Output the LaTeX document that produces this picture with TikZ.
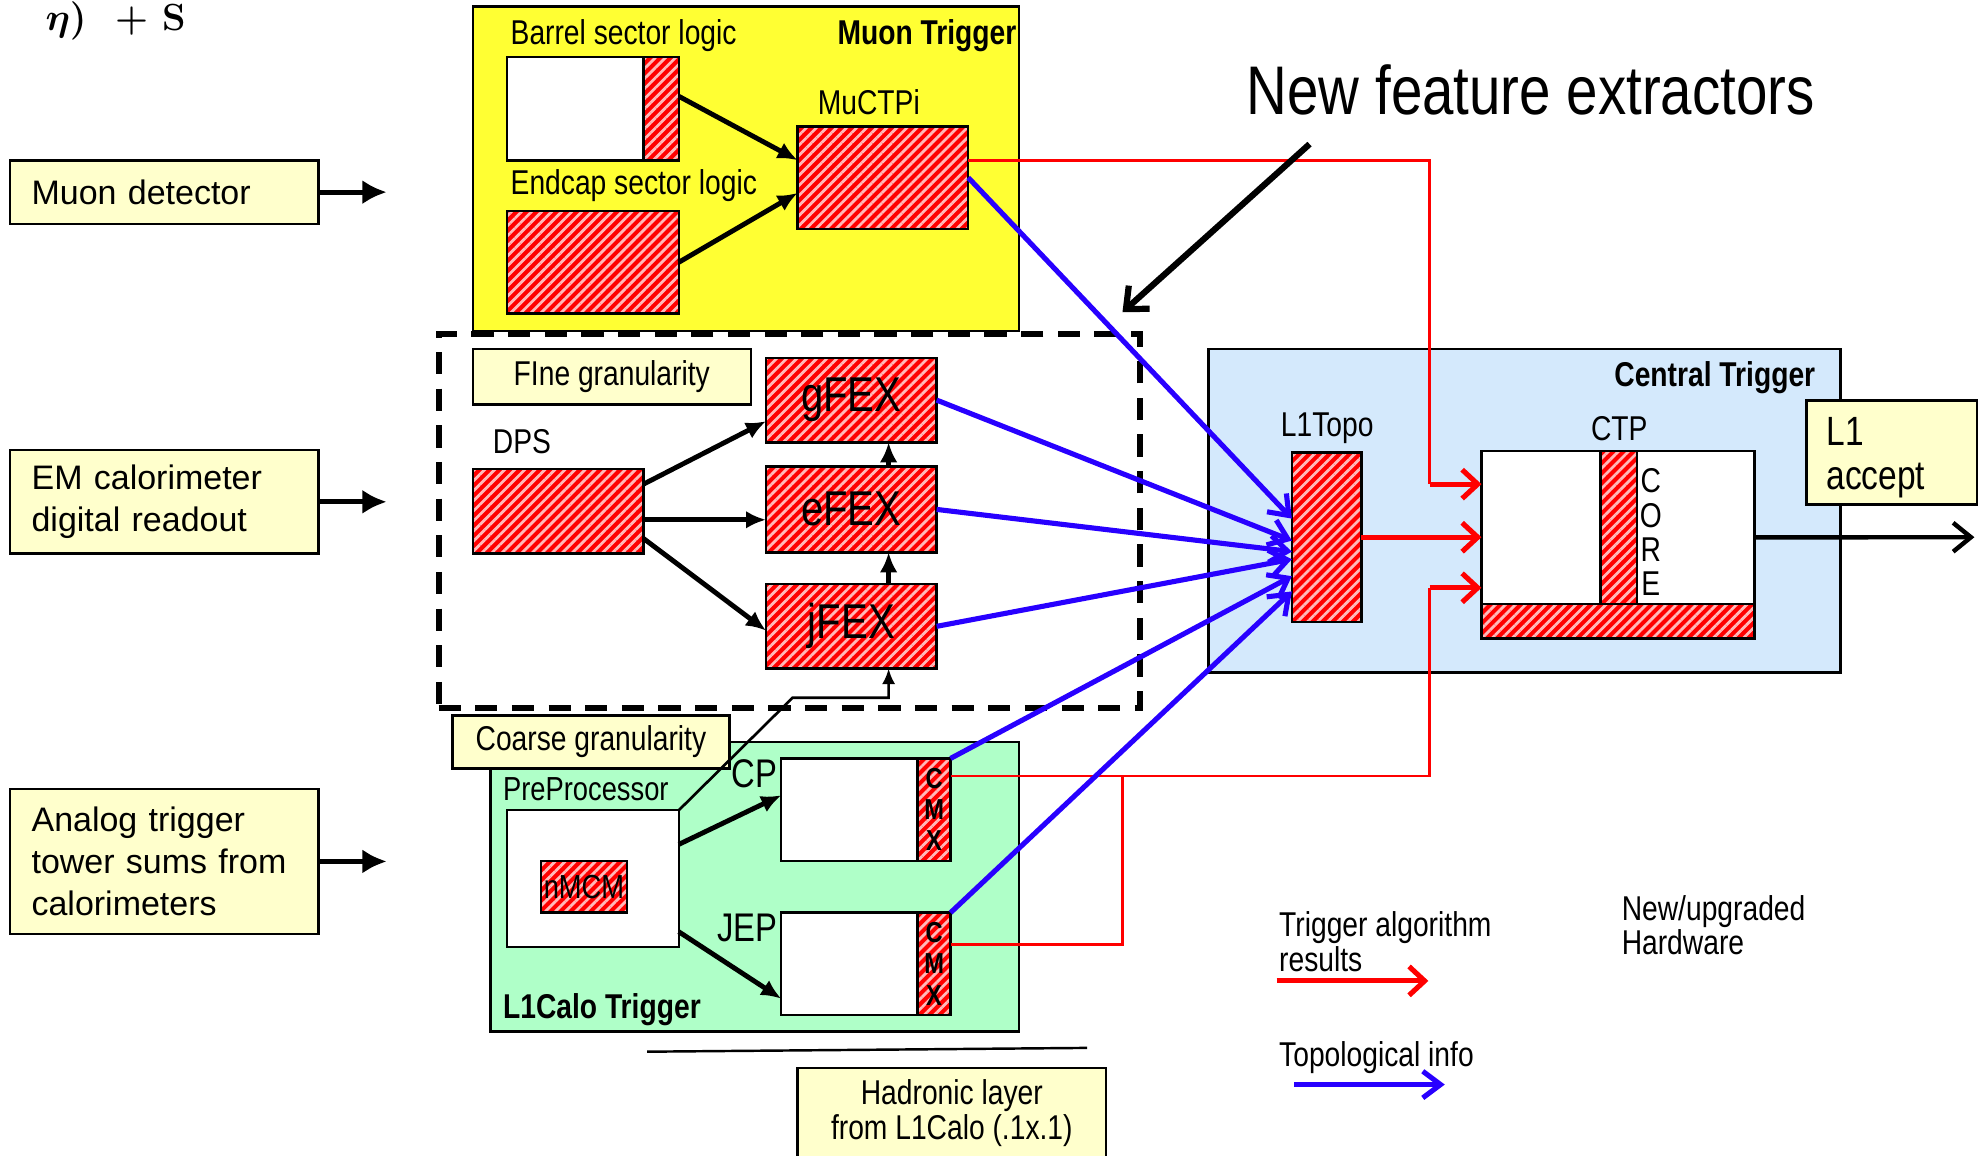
\documentclass[tikz,border=0pt]{standalone}
\usepackage{fontspec}
\setmainfont{Liberation Sans}[FakeStretch=0.82]
\newfontfamily\widesans{Liberation Sans}
\newfontfamily\lmserif{Latin Modern Roman}
\usetikzlibrary{arrows.meta,patterns.meta,calc}

\definecolor{hatchred}{RGB}{255,0,0}
\definecolor{hatchpink}{RGB}{255,185,185}
\definecolor{muonyellow}{RGB}{255,255,51}
\definecolor{paleyellow}{RGB}{255,255,204}
\definecolor{calogreen}{RGB}{175,255,200}
\definecolor{ctpblue}{RGB}{212,233,252}
\definecolor{topoblue}{RGB}{40,0,255}
\definecolor{algred}{RGB}{255,0,0}

\begin{document}
\begin{tikzpicture}[x=0.02cm,y=-0.02cm,
  every node/.style={inner sep=0pt, outer sep=0pt, font=\fontsize{15.5}{18}\selectfont},
  frame/.style={draw=black, line width=1.1pt},
  % a box given by its left, top, right and bottom edges
  area/.style n args={4}{anchor=north west, at={(#1,#2)},
    minimum width={(#3-#1)*0.02cm}, minimum height={(#4-#2)*0.02cm}},
  hatch/.style={frame, preaction={fill=hatchred},
    pattern={Lines[angle=45,distance=3.2pt,line width=1.25pt]}, pattern color=hatchpink},
  blank/.style={frame, fill=white},
  note/.style={frame, fill=paleyellow},
  source/.style={note, anchor=north west, text width=4.2cm, inner xsep=0.34cm, align=left,
    font=\widesans\fontsize{15.3}{18.8}\selectfont},
  fexlabel/.style={font=\fontsize{22}{24}\selectfont},
  boldlabel/.style={font=\fontsize{15.5}{18}\selectfont\bfseries},
  cmxlabel/.style={align=center, font=\fontsize{13}{14}\selectfont\bfseries},
  feed/.style={line width=2.3pt, -{Latex[length=11pt,width=11pt]}},
  link/.style={line width=2.2pt, -{Latex[length=9pt,width=8pt]}},
  topo/.style={draw=topoblue, line width=2.3pt, -{Straight Barb[length=8pt,width=12pt]}},
  result/.style={draw=algred, line width=1.2pt},
  resultarrow/.style={draw=algred, line width=2.3pt, -{Straight Barb[length=7pt,width=13pt]}},
  accept/.style={line width=2pt, -{Straight Barb[length=8pt,width=13pt]}},
  pointer/.style={line width=2.8pt, -{Straight Barb[length=8pt,width=14pt]}},
  feature/.style={line width=1.2pt, -{Latex[length=7pt,width=6pt]}},
]
\useasboundingbox (0,0) rectangle (1568,914);
\fill[white] (0,0) rectangle (1568,914);

% formula fragment in the corner
\node[anchor=base west, font=\fontsize{17}{17}\selectfont\lmserif\bfseries\boldmath] (formula) at (36,24) {$\eta)$ \ + S};

% ---------- inputs ----------
\node[source, minimum height=1cm] (muondet) at (8,127) {Muon detector};
\node[source, minimum height=1.64cm] (emcal) at (8,356) {EM calorimeter\\digital readout};
\node[source, minimum height=2.3cm] (analog) at (8,624) {Analog trigger\\tower sums from\\calorimeters};
\coordinate (muonfeed) at ($(muondet.east)+(54,0)$);
\coordinate (emfeed) at ($(emcal.east)+(54,0)$);
\coordinate (analogfeed) at ($(analog.east)+(54,0)$);
\draw[feed] (muondet.east) -- (muonfeed);
\draw[feed] (emcal.east) -- (emfeed);
\draw[feed] (analog.east) -- (analogfeed);

% ---------- muon trigger ----------
\node[area={374}{5}{806}{262}, frame, fill=muonyellow] (mutrig) {};
\node[anchor=west] (barrellbl) at (404,28) {Barrel sector logic};
\node[anchor=east, boldlabel] (mutriglbl) at (804,28) {Muon Trigger};
\node[area={401}{45}{509}{127}, blank] (barrelL) {};
\node[area={509}{45}{537}{127}, hatch] (barrelR) {};
\node[anchor=west] (endcaplbl) at (404,147) {Endcap sector logic};
\node[area={401}{167}{537}{248}, hatch] (endcap) {};
\node[anchor=west] (muctpilbl) at (647,81) {MuCTPi};
\node[area={631}{100}{766}{181}, hatch] (muctpi) {};
\draw[link] ($(barrelR.north east)!0.38!(barrelR.south east)$) -- ($(muctpi.north west)!0.33!(muctpi.south west)$);
\draw[link] (endcap.east) -- ($(muctpi.north west)!0.65!(muctpi.south west)$);

% ---------- feature extractors ----------
\node[area={347}{264}{902}{560}, draw, line width=2.8pt, dash pattern=on 10pt off 6.5pt] (fexzone) {};
\node[area={374}{276}{594}{320}, note] (fine) {FIne granularity};
\node[anchor=west] (dpslbl) at (390,349) {DPS};
\node[area={374}{371}{509}{438}, hatch] (dps) {};
\node[area={606}{283}{741}{350}, hatch, fexlabel] (gfex) {gFEX};
\node[area={606}{369}{741}{437}, hatch, fexlabel] (efex) {eFEX};
\node[area={606}{462}{741}{529}, hatch, fexlabel] (jfex) {jFEX};
\coordinate (dpsmid) at ($(dps.north east)!0.6!(dps.south east)$);
\draw[link] ($(dps.north east)!0.18!(dps.south east)$) -- ($(gfex.north west)!0.75!(gfex.south west)$);
\draw[link] (dpsmid) -- (dpsmid -| efex.west);
\draw[link] ($(dps.north east)!0.82!(dps.south east)$) -- ($(jfex.north west)!0.55!(jfex.south west)$);
\draw[link] ($(efex.north)+(29.5,0)$) -- ($(gfex.south)+(29.5,0)$);
\draw[link] ($(jfex.north)+(29.5,0)$) -- ($(efex.south)+(29.5,0)$);

% ---------- L1Calo ----------
\node[area={388}{587}{806}{816}, frame, fill=calogreen] (calo) {};
\node[area={358}{566}{577}{608}, note] (coarse) {Coarse granularity};
\node[anchor=west, font=\fontsize{15}{18}\selectfont] (pplbl) at (398,624) {PreProcessor};
\node[area={401}{641}{537}{749}, blank] (pp) {};
\node[area={428}{681}{496}{722}, hatch, font=\fontsize{15}{18}\selectfont] (nmcm) {nMCM};
\node[anchor=east, font=\fontsize{18}{20}\selectfont] (cplbl) at (615,612) {CP};
\node[area={618}{600}{726}{681}, blank] (cpL) {};
\node[area={726}{600}{752}{681}, hatch, cmxlabel] (cpX) {C\\M\\X};
\node[anchor=east, font=\fontsize{18}{20}\selectfont] (jeplbl) at (615,734) {JEP};
\node[area={618}{722}{726}{803}, blank] (jepL) {};
\node[area={726}{722}{752}{803}, hatch, cmxlabel] (jepX) {C\\M\\X};
\node[anchor=west, boldlabel] (calolbl) at (398,799) {L1Calo Trigger};
\draw[link] ($(pp.north east)!0.25!(pp.south east)$) -- ($(cpL.north west)!0.36!(cpL.south west)$);
\draw[link] ($(pp.north east)!0.89!(pp.south east)$) -- ($(jepL.north west)!0.84!(jepL.south west)$);
\draw[feature] (pp.north east) -- (627,552) -| ($(jfex.south)+(29.5,0)$);

% hadronic layer
\coordinate (hadL) at (512,832);
\coordinate (hadR) at (860,829);
\draw[line width=1.1pt] (hadL) -- (hadR);
\node[area={631}{845}{875}{916}, note, align=center, font=\fontsize{15.5}{16}\selectfont] (hadronic) {Hadronic layer\\from L1Calo (.1x.1)};

% ---------- central trigger ----------
\node[area={956}{276}{1456}{532}, frame, fill=ctpblue] (central) {};
\node[anchor=east, boldlabel] (centrallbl) at (1436,299) {Central Trigger};
\node (topolbl) at (1050,339) {L1Topo};
\node[area={1022}{358}{1077}{492}, hatch] (l1topo) {};
\node (ctplbl) at (1281,339) {CTP};
\node[area={1172}{357}{1388}{505}, blank] (ctp) {};
\node[area={1266}{357}{1295}{478}, hatch] (ctpbar) {};
\node[area={1172}{478}{1388}{505}, hatch] (ctpbase) {};
\node[align=center, font=\fontsize{15.5}{15.4}\selectfont] (core) at (1306,421) {C\\O\\R\\E};
\node[area={1429}{317}{1564}{399}, note] (l1acc) {};
\node[anchor=west, align=left, font=\fontsize{18.4}{20}\selectfont] (l1acctext) at (1445,362) {L1\\accept};
\coordinate (acceptout) at (1562,425);
\draw[accept] ($(ctp.north east)!0.46!(ctp.south east)$) -- (acceptout);

% ---------- trigger algorithm results ----------
\coordinate (redA) at (1131,383);
\coordinate (redB) at (1131,465);
\coordinate (redJoin) at (888,614);
\draw[result] ($(muctpi.north east)!0.33!(muctpi.south east)$) -| (redA);
\draw[result] ($(cpX.north east)!0.17!(cpX.south east)$) -| (redB);
\draw[result] ($(jepX.north east)!0.31!(jepX.south east)$) -| (redJoin);
\draw[resultarrow] (redA) -- (redA -| ctp.west);
\draw[resultarrow] (redB) -- (redB -| ctp.west);
\draw[resultarrow] (l1topo.east) -- (l1topo.east -| ctp.west);

% ---------- topological info ----------
\draw[topo] (muctpi.east) -- ($(l1topo.north west)!0.39!(l1topo.south west)$);
\draw[topo] (gfex.east) -- ($(l1topo.north west)!0.52!(l1topo.south west)$);
\draw[topo] (efex.east) -- ($(l1topo.north west)!0.585!(l1topo.south west)$);
\draw[topo] (jfex.east) -- ($(l1topo.north west)!0.63!(l1topo.south west)$);
\draw[topo] (cpX.north east) -- ($(l1topo.north west)!0.73!(l1topo.south west)$);
\draw[topo] (jepX.north east) -- ($(l1topo.north west)!0.82!(l1topo.south west)$);

% ---------- annotation ----------
\node[font=\fontsize{31}{34}\selectfont] (newfex) at (1211,71) {New feature extractors};
\coordinate (pointtail) at (1036,114);
\coordinate (pointtip) at (888,247);
\draw[pointer] (pointtail) -- (pointtip);

% ---------- legend ----------
\node[anchor=west, align=left, font=\fontsize{15.5}{16}\selectfont] (legres) at (1012,745) {Trigger algorithm\\results};
\coordinate (legresA) at (1010,776);
\coordinate (legresB) at (1130,776);
\draw[resultarrow] (legresA) -- (legresB);
\node[anchor=west] (legtopo) at (1012,837) {Topological info};
\coordinate (legtopoA) at (1024,858);
\coordinate (legtopoB) at (1143,858);
\draw[topo] (legtopoA) -- (legtopoB);
\node[anchor=west, align=left, font=\fontsize{15.5}{15.5}\selectfont] (leghw) at (1283,732) {New/upgraded\\Hardware};
\end{tikzpicture}
\end{document}
